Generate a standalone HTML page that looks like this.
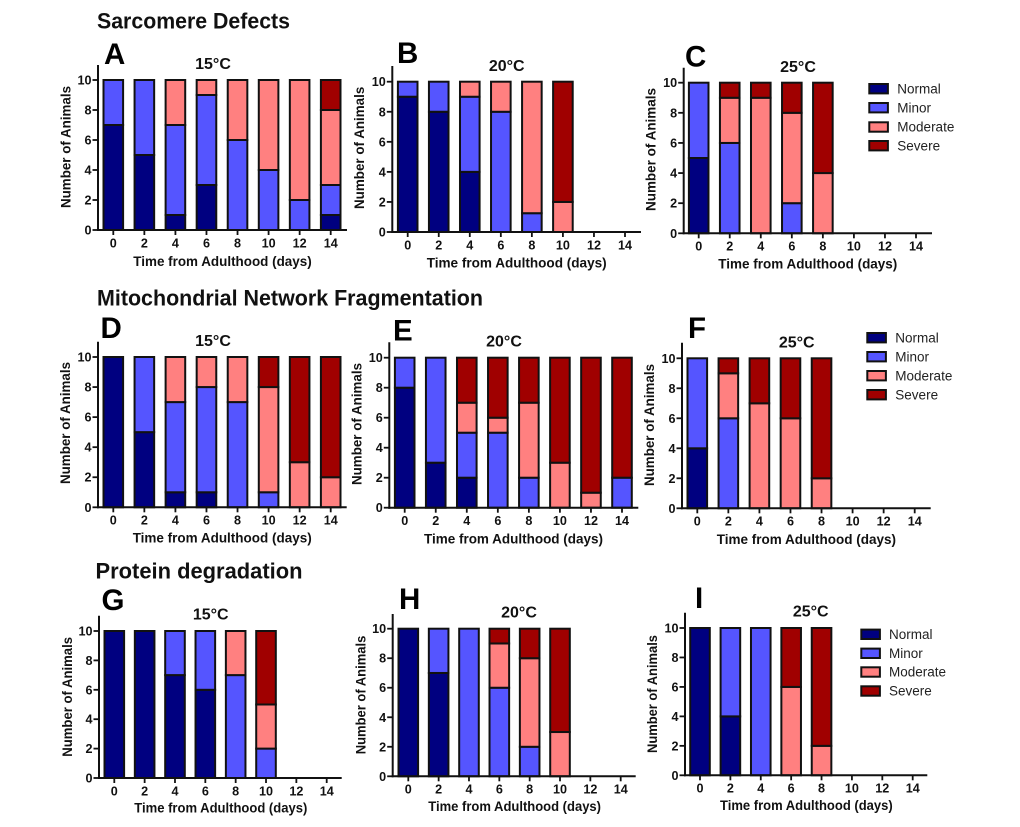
<!DOCTYPE html>
<html lang="en">
<head>
<meta charset="utf-8">
<title>Sarcomere, mitochondrial and protein phenotypes over adulthood</title>
<style>
html,body{margin:0;padding:0;background:#fff;}
#figure{display:block;width:1020px;height:827px;font-family:"Liberation Sans",Arial,sans-serif;filter:blur(0.3px);}
.section-title{font-weight:bold;font-size:22px;fill:#111;}
.panel-letter{font-weight:bold;font-size:29.5px;fill:#000;}
.temp{font-weight:bold;font-size:16px;fill:#111;text-anchor:middle;}
.tick{font-weight:bold;font-size:12.6px;fill:#111;}
.axis-title{font-weight:bold;font-size:14.2px;fill:#111;}
.legend-text{font-size:13.5px;fill:#222;}
</style>
</head>
<body>
<svg id="figure" xmlns="http://www.w3.org/2000/svg" width="1020" height="827" viewBox="0 0 1020 827">
  <rect width="1020" height="827" fill="#fff"/>
  <text class="section-title" x="97" y="28.5" textLength="193" lengthAdjust="spacingAndGlyphs">Sarcomere Defects</text>
  <text class="section-title" x="97" y="305.5" textLength="386" lengthAdjust="spacingAndGlyphs">Mitochondrial Network Fragmentation</text>
  <text class="section-title" x="95.5" y="578.5" textLength="207" lengthAdjust="spacingAndGlyphs">Protein degradation</text>
</svg>
<script>
// Shared categories and tick labels
const days = [0, 2, 4, 6, 8, 10, 12, 14];
const yTicks = [0, 2, 4, 6, 8, 10];
const severityNames = ['Normal', 'Minor', 'Moderate', 'Severe'];

// Panel A
const aNormal   = [7, 5, 1, 3, 0, 0, 0, 1];
const aMinor    = [3, 5, 6, 6, 6, 4, 2, 2];
const aModerate = [0, 0, 3, 1, 4, 6, 8, 5];
const aSevere   = [0, 0, 0, 0, 0, 0, 0, 2];
// Panel B
const bNormal   = [9, 8, 4, 0, 0, 0, 0, 0];
const bMinor    = [1, 2, 5, 8, 1.25, 0, 0, 0];
const bModerate = [0, 0, 1, 2, 8.75, 2, 0, 0];
const bSevere   = [0, 0, 0, 0, 0, 8, 0, 0];
// Panel C
const cNormal   = [5, 0, 0, 0, 0, 0, 0, 0];
const cMinor    = [5, 6, 0, 2, 0, 0, 0, 0];
const cModerate = [0, 3, 9, 6, 4, 0, 0, 0];
const cSevere   = [0, 1, 1, 2, 6, 0, 0, 0];
// Panel D
const dNormal   = [10, 5, 1, 1, 0, 0, 0, 0];
const dMinor    = [0, 5, 6, 7, 7, 1, 0, 0];
const dModerate = [0, 0, 3, 2, 3, 7, 3, 2];
const dSevere   = [0, 0, 0, 0, 0, 2, 7, 8];
// Panel E
const eNormal   = [8, 3, 2, 0, 0, 0, 0, 0];
const eMinor    = [2, 7, 3, 5, 2, 0, 0, 2];
const eModerate = [0, 0, 2, 1, 5, 3, 1, 0];
const eSevere   = [0, 0, 3, 4, 3, 7, 9, 8];
// Panel F
const fNormal   = [4, 0, 0, 0, 0, 0, 0, 0];
const fMinor    = [6, 6, 0, 0, 0, 0, 0, 0];
const fModerate = [0, 3, 7, 6, 2, 0, 0, 0];
const fSevere   = [0, 1, 3, 4, 8, 0, 0, 0];
// Panel G
const gNormal   = [10, 10, 7, 6, 0, 0, 0, 0];
const gMinor    = [0, 0, 3, 4, 7, 2, 0, 0];
const gModerate = [0, 0, 0, 0, 3, 3, 0, 0];
const gSevere   = [0, 0, 0, 0, 0, 5, 0, 0];
// Panel H
const hNormal   = [10, 7, 0, 0, 0, 0, 0, 0];
const hMinor    = [0, 3, 10, 6, 2, 0, 0, 0];
const hModerate = [0, 0, 0, 3, 6, 3, 0, 0];
const hSevere   = [0, 0, 0, 1, 2, 7, 0, 0];
// Panel I
const iNormal   = [10, 4, 0, 0, 0, 0, 0, 0];
const iMinor    = [0, 6, 10, 0, 0, 0, 0, 0];
const iModerate = [0, 0, 0, 6, 2, 0, 0, 0];
const iSevere   = [0, 0, 0, 4, 8, 0, 0, 0];

const severityColors = ['#000080', '#5555ff', '#ff8080', '#a00000'];
const INK = '#111';
const SVG_NS = 'http://www.w3.org/2000/svg';
const figure = document.getElementById('figure');

// Layout of each panel (pixels) kept apart from the data above
const panels = [
  {id:'a', letter:'A', lx:104, ly:64, temp:'15°C', tx:213, ty:69, axisX:98, first:113.3, last:330.7, y0:230, y10:80, top:65, end:347,
   xt:[133.3,311.7,266], yt:[70.7,86,208], series:[aNormal,aMinor,aModerate,aSevere]},
  {id:'b', letter:'B', lx:397, ly:63, temp:'20°C', tx:506.7, ty:71, axisX:392.3, first:407.7, last:625, y0:232, y10:81.7, top:66, end:641,
   xt:[426.7,606.7,267.3], yt:[364,86.7,209], series:[bNormal,bMinor,bModerate,bSevere]},
  {id:'c', letter:'C', lx:685, ly:66.5, temp:'25°C', tx:798, ty:72, axisX:683.7, first:698.7, last:916, y0:233.3, y10:82.7, top:67.7, end:932,
   xt:[718.3,897.3,268.7], yt:[655.7,88,211], series:[cNormal,cMinor,cModerate,cSevere],
   legend:{x:869.3, textX:897.3, rows:[88.7,107.7,127,145.7]}},
  {id:'d', letter:'D', lx:100.5, ly:338, temp:'15°C', tx:213, ty:346, axisX:98, first:113.3, last:330.7, y0:507.3, y10:357, top:341.7, end:346.7,
   xt:[132.7,311.7,542.7], yt:[70,362,484], series:[dNormal,dMinor,dModerate,dSevere]},
  {id:'e', letter:'E', lx:393, ly:340.5, temp:'20°C', tx:504, ty:346.7, axisX:389.3, first:404.7, last:622, y0:507.7, y10:357.7, top:342.3, end:638.3,
   xt:[424,603,543.3], yt:[361.7,363,485], series:[eNormal,eMinor,eModerate,eSevere]},
  {id:'f', letter:'F', lx:688, ly:338, temp:'25°C', tx:796.7, ty:347.7, axisX:682, first:697.3, last:914.7, y0:508.3, y10:358.3, top:342.7, end:930.7,
   xt:[716.7,896,544], yt:[654,364,486], series:[fNormal,fMinor,fModerate,fSevere],
   legend:{x:867.3, textX:895.3, rows:[337.7,356.7,375.7,394.7]}},
  {id:'g', letter:'G', lx:101.5, ly:610, temp:'15°C', tx:210.7, ty:619.3, axisX:99, first:114.3, last:326.7, y0:778, y10:631, top:615.7, end:341.7,
   xt:[134.3,307.3,812.3], yt:[72,637,756.7], series:[gNormal,gMinor,gModerate,gSevere]},
  {id:'h', letter:'H', lx:399, ly:609, temp:'20°C', tx:519, ty:617.7, axisX:392.7, first:408.3, last:620.7, y0:776.3, y10:628.7, top:614, end:635.7,
   xt:[428.3,601,811], yt:[365.7,635.7,754.3], series:[hNormal,hMinor,hModerate,hSevere]},
  {id:'i', letter:'I', lx:695, ly:608, temp:'25°C', tx:810.7, ty:616.7, axisX:685, first:700, last:912.7, y0:775.3, y10:628, top:612.7, end:927.3,
   xt:[720,892.7,810], yt:[657,635,753], series:[iNormal,iMinor,iModerate,iSevere],
   legend:{x:861.3, textX:889, rows:[634.3,653.3,672,691]}}
];

function xScale(p, index) {
  return p.first + (p.last - p.first) * index / (days.length - 1);
}
function yScale(p, value) {
  return p.y0 + (p.y10 - p.y0) * value / 10;
}
function make(tag, attrs, parent, text) {
  const el = document.createElementNS(SVG_NS, tag);
  for (const k in attrs) el.setAttribute(k, attrs[k]);
  if (text !== undefined) el.textContent = text;
  parent.appendChild(el);
  return el;
}

panels.forEach(function (p) {
  const g = make('g', {}, figure);
  
  

  // Bars
  days.forEach(function (day, i) {
    let base = 0;
    p.series.forEach(function (values, s) {
      const v = values[i];
      if (!v) return;
      const yTop = yScale(p, base + v);
      const yBottom = yScale(p, base);
      const bar = make('rect', {
        x: (xScale(p, i) - 9.8).toFixed(2),
        y: yTop.toFixed(2),
        width: 19.6,
        height: (yBottom - yTop).toFixed(2),
        fill: severityColors[s],
        stroke: INK,
        'stroke-width': 2
      }, g);
      
      
      base += v;
    });
  });

  // Y axis with ticks and labels
  const yAxis = make('line', {x1:p.axisX, x2:p.axisX, y1:p.top, y2:p.y0 + 1, stroke:INK, 'stroke-width':2}, g);
  
  
  yTicks.forEach(function (t) {
    const y = yScale(p, t);
    const mark = make('line', {x1:p.axisX - 5.5, x2:p.axisX, y1:y, y2:y, stroke:INK, 'stroke-width':1.8}, g);
    
    
    const label = make('text', {x:p.axisX - 6.5, y:y + 4.5, 'text-anchor':'end', class:'tick'}, g, String(t));
    
    
  });

  // X axis with ticks and labels
  const xAxis = make('line', {x1:p.axisX - 1, x2:p.end, y1:p.y0, y2:p.y0, stroke:INK, 'stroke-width':2}, g);
  
  
  days.forEach(function (day, i) {
    const x = xScale(p, i);
    const mark = make('line', {x1:x, x2:x, y1:p.y0, y2:p.y0 + 5, stroke:INK, 'stroke-width':1.8}, g);
    
    
    const label = make('text', {x:x, y:p.y0 + 17.3, 'text-anchor':'middle', class:'tick'}, g, String(day));
    
    
  });

  // Titles
  const letter = make('text', {x:p.lx, y:p.ly, class:'panel-letter'}, g, p.letter);
  
  

  const temp = make('text', {x:p.tx, y:p.ty, class:'temp'}, g, p.temp);
  
  

  const xTitle = make('text', {
    x:p.xt[0], y:p.xt[2], class:'axis-title',
    textLength:(p.xt[1] - p.xt[0]).toFixed(1), lengthAdjust:'spacingAndGlyphs'
  }, g, 'Time from Adulthood (days)');
  
  

  const yTitle = make('text', {
    x:0, y:0, class:'axis-title',
    transform:'translate(' + p.yt[0] + ' ' + p.yt[2] + ') rotate(-90)',
    textLength:(p.yt[2] - p.yt[1]).toFixed(1), lengthAdjust:'spacingAndGlyphs'
  }, g, 'Number of Animals');
  
  

  // Legend
  if (p.legend) {
    const lg = make('g', {}, g);
    
    
    severityNames.forEach(function (name, s) {
      const cy = p.legend.rows[s];
      const swatch = make('rect', {x:p.legend.x, y:cy - 4.7, width:18.6, height:9.4, fill:severityColors[s], stroke:INK, 'stroke-width':2}, lg);
      
      
      const entry = make('text', {x:p.legend.textX, y:cy + 4.7, class:'legend-text'}, lg, name);
      
      
    });
  }
});
</script>
</body>
</html>
